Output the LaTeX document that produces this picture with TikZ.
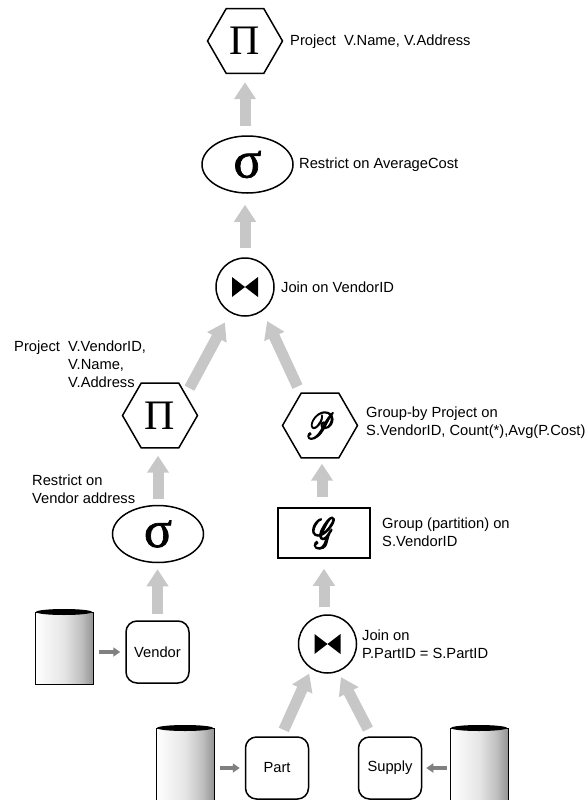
\documentclass[tikz,border=0pt]{standalone}
\usepackage{fontspec}
\usepackage{graphicx}
\usepackage{mathrsfs}
\setmainfont{Liberation Sans}
\newfontfamily\symfont{Liberation Serif}
\usetikzlibrary{arrows.meta,shapes.geometric}
\pgfdeclarehorizontalshading{dbshade}{100bp}{color(0bp)=(white); color(25bp)=(white); color(50bp)=(black!10); color(65bp)=(black!25); color(75bp)=(black!42); color(100bp)=(black!75)}
\newcommand{\piop}{\fontsize{42}{42}\selectfont\symfont Π}
\newcommand{\sigop}{\fontsize{52}{52}\selectfont\symfont\special{pdf:code q 2 Tr 0.7 w}σ\special{pdf:code Q}}
\newcommand{\inkscr}[3]{\scalebox{#2}[#3]{\special{pdf:code q 2 Tr 0.35 w}$\mathscr{#1}$\special{pdf:code Q}}}
\tikzset{
hexop/.style={regular polygon,regular polygon sides=6,draw=black,line width=1.5pt,minimum size=75pt,inner sep=0pt},
ellop/.style={ellipse,draw=black,line width=1.5pt,minimum width=91pt,minimum height=57pt,inner sep=0pt},
joinop/.style={circle,draw=black,line width=1.5pt,minimum size=58pt,inner sep=0pt,path picture={\fill (path picture bounding box.center) ++(-13,-10)--++(0,20)--++(26,-20)--++(0,20)--cycle;}},
relbox/.style={rectangle,rounded corners=11pt,draw=black,line width=1.5pt,minimum width=63pt,minimum height=62pt,inner sep=0pt,font=\fontsize{14.7}{17}\selectfont},
dbbox/.style={rectangle,draw=black,line width=1pt,minimum width=58pt,minimum height=72pt,inner sep=0pt,shading=dbshade},
dbtop/.style={fill=black},
lbl/.style={anchor=west,align=left,inner sep=0pt,font=\fontsize{14.7}{18}\selectfont},
bigarrow/.style={draw=black!22,line width=11pt,-{Triangle[length=17pt,width=21pt]}},
smallarrow/.style={draw=black!50,line width=4pt,-{Triangle[length=7pt,width=9pt]},shorten <=5pt,shorten >=5pt}
}
\begin{document}
\begin{tikzpicture}[x=1pt,y=1pt]
\useasboundingbox (0,0) rectangle (584,-800);
\node[hexop] (p1) at (245,-41) {\piop};
\node[ellop] (s1) at (247.5,-164.5) {\sigop};
\node[joinop] (j1) at (245,-287) {};
\node[hexop] (p2) at (160,-415.5) {\piop};
\node[hexop] (p3) at (320,-425.5) {\inkscr{P}{2.7}{3.7}};
\node[ellop] (s2) at (158,-534) {\sigop};
\node[rectangle,draw=black,line width=1.5pt,minimum width=92pt,minimum height=50pt,inner sep=0pt] (g1) at (324,-533) {\inkscr{G}{3}{4.3}};
\node[joinop] (j2) at (327.5,-644) {};
\node[relbox] (vendor) at (157.5,-652) {Vendor};
\node[relbox] (part) at (277,-768) {Part};
\node[relbox] (supply) at (390,-768) {Supply};
\node[dbbox] (d1) at (64,-648.5) {};
\node[dbbox] (d2) at (185,-764.5) {};
\node[dbbox] (d3) at (479,-764.5) {};
\fill[dbtop] (d1.north) ellipse (28 and 3);
\fill[dbtop] (d2.north) ellipse (28 and 3);
\fill[dbtop] (d3.north) ellipse (28 and 3);
\draw[bigarrow,shorten <=9pt,shorten >=8pt] (p1.south|-s1.north)--(p1.south);
\draw[bigarrow,shorten <=9pt,shorten >=11pt] (j1.north)--(j1.north|-s1.south);
\draw[bigarrow,shorten <=7pt,shorten >=11pt] (p2.39)--(j1.240);
\draw[bigarrow,shorten <=7pt,shorten >=11pt] (p3.121)--(j1.306);
\draw[bigarrow,shorten <=6pt,shorten >=7pt] (s2.north)--(s2.north|-p2.south);
\draw[bigarrow,shorten <=10pt,shorten >=5pt] ([xshift=2pt]p3.south|-g1.north)--([xshift=2pt]p3.south);
\draw[bigarrow,shorten <=7pt,shorten >=10pt] (j2.north-|g1.south)--(g1.south);
\draw[bigarrow,shorten <=6pt,shorten >=6pt] (vendor.north)--(vendor.north|-s2.south);
\draw[bigarrow,shorten <=7pt,shorten >=5pt] (part.83)--(j2.237);
\draw[bigarrow,shorten <=8pt,shorten >=6pt] (supply.120)--(j2.291);
\draw[smallarrow] (vendor.west-|d1.east)--(vendor.west);
\draw[smallarrow] (part.west-|d2.east)--(part.west);
\draw[smallarrow,shorten <=3pt,shorten >=4pt] (supply.east-|d3.west)--(supply.east);
\node[lbl] (t1) at (290,-42) {Project\ \ V.Name, V.Address};
\node[lbl] (t2) at (299,-165) {Restrict on AverageCost};
\node[lbl] (t3) at (281,-287) {Join on VendorID};
\node[lbl] (t4) at (14,-364) {Project\ \ V.VendorID,\\\hspace{54pt}V.Name,\\\hspace{54pt}V.Address};
\node[lbl] (t5) at (32,-489) {Restrict on\\Vendor address};
\node[lbl] (t6) at (366,-422.5) {Group-by Project on\\S.VendorID, Count(*),Avg(P.Cost)};
\node[lbl] (t7) at (382,-532.5) {Group (partition) on\\S.VendorID};
\node[lbl] (t8) at (362,-644) {Join on\\P.PartID = S.PartID};
\end{tikzpicture}
\end{document}
